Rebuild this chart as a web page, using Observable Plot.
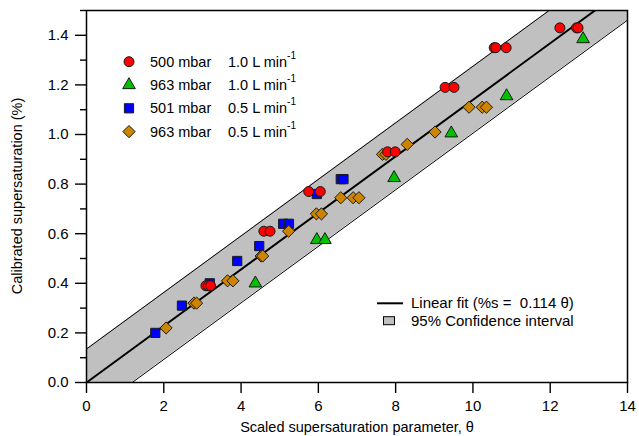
<!DOCTYPE html>
<html>
<head>
<meta charset="utf-8">
<script src="https://cdn.jsdelivr.net/npm/d3@7"></script>
<script src="https://cdn.jsdelivr.net/npm/@observablehq/plot@0.6"></script>
<style>
  html, body { margin: 0; padding: 0; background: #fff; }
  #chart { width: 639px; height: 436px; }
  svg text { font-family: "Liberation Sans", Arial, sans-serif; }
</style>
</head>
<body>
<div id="chart"></div>
<script>
// ---- Data ----
const circle500Theta = [3.09, 3.15, 3.21, 4.59, 4.75, 5.75, 6.05, 7.79, 7.99, 9.28, 9.51, 10.55, 10.59, 10.86, 12.25, 12.68, 12.72];
const circle500S     = [0.39, 0.39, 0.39, 0.61, 0.61, 0.77, 0.77, 0.93, 0.93, 1.19, 1.19, 1.35, 1.35, 1.35, 1.43, 1.43, 1.43];

const tri963Theta = [4.37, 5.96, 6.17, 7.96, 9.44, 10.87, 12.85];
const tri963S     = [0.40, 0.575, 0.575, 0.825, 1.005, 1.155, 1.385];

const sq501Theta = [1.78, 2.47, 3.19, 3.90, 4.47, 5.09, 5.24, 5.96, 6.58, 6.65];
const sq501S     = [0.20, 0.31, 0.40, 0.49, 0.55, 0.64, 0.64, 0.76, 0.82, 0.82];

const dia963Theta = [2.06, 2.78, 2.85, 3.65, 3.79, 4.52, 4.56, 5.23, 5.95, 6.08, 6.58, 6.90, 7.05, 7.66, 7.75, 8.30, 9.02, 9.90, 10.24, 10.35];
const dia963S     = [0.22, 0.32, 0.32, 0.41, 0.41, 0.51, 0.51, 0.61, 0.68, 0.68, 0.745, 0.745, 0.745, 0.92, 0.92, 0.96, 1.01, 1.11, 1.11, 1.11];

const fitSlope = 0.114;
const ciHalfWidth = 0.135;
const fitThetaEnds = [0, 14];

const xTicks = [0, 2, 4, 6, 8, 10, 12, 14];
const yTicks = [0, 0.2, 0.4, 0.6, 0.8, 1.0, 1.2, 1.4];
const yMinorTicks = [0.1, 0.3, 0.5, 0.7, 0.9, 1.1, 1.3, 1.5];

const seriesLabels = ["500 mbar", "963 mbar", "501 mbar", "963 mbar"];
const flowLabels = ["1.0 L min", "1.0 L min", "0.5 L min", "0.5 L min"];
const xTitle = "Scaled supersaturation parameter, θ";
const yTitle = "Calibrated supersaturation (%)";
const fitLabel = "Linear fit (%s =  0.114 θ)";
const ciLabel = "95% Confidence interval";

// ---- Build tables ----
const zip = (xs, ys) => xs.map((x, i) => ({theta: x, s: ys[i]}));
const circles = zip(circle500Theta, circle500S);
const tris = zip(tri963Theta, tri963S);
const squares = zip(sq501Theta, sq501S);
const diamonds = zip(dia963Theta, dia963S);
const fit = fitThetaEnds.map(t => ({theta: t, s: fitSlope * t, lo: fitSlope * t - ciHalfWidth, hi: fitSlope * t + ciHalfWidth}));

const colors = {red: "#ff0000", green: "#00c000", blue: "#0000ff", orange: "#cc8500"};
const mstroke = "#1a1a1a";
const R = {circle: 5.0, tri: 4.7, square: 5.2, diamond: 5.5};

const plot = Plot.plot({
  width: 639,
  height: 436,
  marginLeft: 86,
  marginRight: 12,
  marginTop: 10,
  marginBottom: 54,
  style: {fontFamily: "Liberation Sans, Arial, sans-serif", fontSize: "15px", color: "#000", background: "#fff"},
  x: {domain: [0, 14]},
  y: {domain: [0, 1.5]},
  marks: [
    Plot.areaY(fit, {x: "theta", y1: "lo", y2: "hi", fill: "#c0c0c0", clip: true}),
    Plot.line(fit, {x: "theta", y: "lo", stroke: "#000", strokeWidth: 1, clip: true}),
    Plot.line(fit, {x: "theta", y: "hi", stroke: "#000", strokeWidth: 1, clip: true}),
    Plot.line(fit, {x: "theta", y: "s", stroke: "#000", strokeWidth: 2, clip: true}),
    Plot.dot(squares, {x: "theta", y: "s", symbol: "square", r: R.square, fill: colors.blue, stroke: mstroke, strokeWidth: 1}),
    Plot.dot(diamonds, {x: "theta", y: "s", symbol: "diamond2", r: R.diamond, fill: colors.orange, stroke: mstroke, strokeWidth: 1}),
    Plot.dot(tris, {x: "theta", y: "s", symbol: "triangle", r: R.tri, fill: colors.green, stroke: mstroke, strokeWidth: 1}),
    Plot.dot(circles, {x: "theta", y: "s", symbol: "circle", r: R.circle, fill: colors.red, stroke: mstroke, strokeWidth: 1}),
    Plot.axisX({ticks: xTicks, tickSize: 11, tickPadding: 7, strokeWidth: 1.4, label: null, tickFormat: d3.format("d")}),
    Plot.axisY({ticks: yTicks, tickSize: 11, tickPadding: 7, strokeWidth: 1.4, label: null, tickFormat: d3.format(".1f")}),
    Plot.axisY({ticks: yMinorTicks, tickSize: 6, strokeWidth: 1.4, label: null, tickFormat: () => ""}),
    Plot.frame({stroke: "#000", strokeWidth: 1.5})
  ]
});

document.getElementById("chart").appendChild(plot);

// ---- Titles and legends ----
const svg = d3.select(plot);
svg.append("text").attr("x", 357).attr("y", 432).attr("text-anchor", "middle")
  .attr("font-size", 14.5).attr("fill", "#000").text(xTitle);
svg.append("text").attr("transform", "translate(22,196) rotate(-90)").attr("text-anchor", "middle")
  .attr("font-size", 14.5).attr("fill", "#000").text(yTitle);

const legendSymbols = [
  {type: d3.symbolCircle, r: R.circle, fill: colors.red},
  {type: d3.symbolTriangle, r: R.tri, fill: colors.green},
  {type: d3.symbolSquare, r: R.square, fill: colors.blue},
  {type: d3.symbolDiamond2, r: R.diamond, fill: colors.orange}
];
const leg = svg.append("g").attr("font-size", 14.5).attr("fill", "#000").attr("text-anchor", "start");
legendSymbols.forEach((sym, i) => {
  const y = 61.7 + i * 23.3;
  leg.append("path").attr("d", d3.symbol(sym.type, Math.PI * sym.r * sym.r)())
    .attr("transform", `translate(129,${y})`).attr("fill", sym.fill).attr("stroke", mstroke).attr("stroke-width", 1);
  leg.append("text").attr("x", 150).attr("y", y + 5).attr("text-anchor", "start").text(seriesLabels[i]);
  const t = leg.append("text").attr("x", 228).attr("y", y + 5).attr("text-anchor", "start");
  t.append("tspan").text(flowLabels[i]);
  t.append("tspan").attr("dy", -8).attr("font-size", 10).text("-1");
});

const leg2 = svg.append("g").attr("font-size", 15).attr("fill", "#000").attr("text-anchor", "start");
leg2.append("line").attr("x1", 377).attr("x2", 403).attr("y1", 303.3).attr("y2", 303.3).attr("stroke", "#000").attr("stroke-width", 2);
leg2.append("text").attr("x", 411).attr("y", 308.3).attr("text-anchor", "start").style("white-space", "pre").text(fitLabel);
leg2.append("rect").attr("x", 383.5).attr("y", 316.7).attr("width", 11).attr("height", 8).attr("fill", "#c0c0c0").attr("stroke", "#000").attr("stroke-width", 1);
leg2.append("text").attr("x", 411).attr("y", 326).attr("text-anchor", "start").text(ciLabel);
</script>
</body>
</html>
